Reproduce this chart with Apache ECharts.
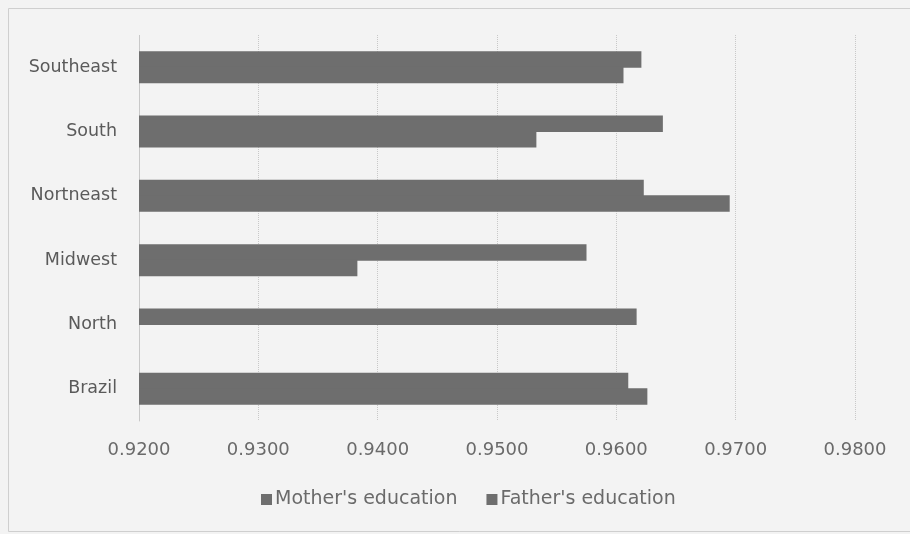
<!DOCTYPE html>
<html>
<head>
<meta charset="utf-8">
<script src="https://cdn.jsdelivr.net/npm/echarts@6/dist/echarts.min.js"></script>
<style>
html,body{margin:0;padding:0;background:#f3f3f3;}
#c{width:910px;height:534px;}
</style>
</head>
<body>
<div id="c"></div>
<script>
const categories = ["Brazil", "North", "Midwest", "Nortneast", "South", "Southeast"];
const seriesNames = ["Mother's education", "Father's education"];
const motherValues = [0.9626, null, 0.9383, 0.9695, 0.9533, 0.9606];
const fatherValues = [0.9610, 0.9617, 0.9575, 0.9623, 0.9639, 0.9621];
const xTicks = [0.92, 0.93, 0.94, 0.95, 0.96, 0.97, 0.98];

const chart = echarts.init(document.getElementById('c'));
const font = '"DejaVu Sans", sans-serif';
const barStyle = {color: '#6e6e6e'};
chart.setOption({
  backgroundColor: '#f3f3f3',
  animation: false,
  graphic: [{
    type: 'rect', shape: {x: 8.5, y: 8.5, width: 905, height: 523},
    style: {fill: 'none', stroke: '#cfcfcf', lineWidth: 1}, silent: true
  }],
  grid: {left: 139, right: 55, top: 35, bottom: 113, containLabel: false},
  legend: {
    top: 485, left: 256, itemWidth: 11, itemHeight: 11, itemGap: 29,
    icon: 'rect',
    textStyle: {fontFamily: font, fontSize: 19, color: '#6a6a6a', padding: [0, 0, 0, -2]},
    data: seriesNames
  },
  xAxis: {
    type: 'value', min: xTicks[0], max: xTicks[xTicks.length-1], interval: 0.01,
    axisLine: {show: false}, axisTick: {show: false},
    axisLabel: {fontFamily: font, fontSize: 18, color: '#6a6a6a', margin: 20,
      formatter: v => v.toFixed(4)},
    splitLine: {show: true, lineStyle: {color: '#c8c8c8', type: 'dotted', width: 1}}
  },
  yAxis: {
    type: 'category', data: categories,
    axisLine: {show: true, lineStyle: {color: '#c8c8c8', type: 'dotted'}},
    axisTick: {show: false},
    axisLabel: {fontFamily: font, fontSize: 17.5, color: '#5a5a5a', margin: 22}
  },
  series: [
    {name: seriesNames[1], type: 'bar', data: fatherValues, barWidth: 16.5, barGap: '-6%',
      itemStyle: barStyle},
    {name: seriesNames[0], type: 'bar', data: motherValues, barWidth: 16.5, barGap: '-6%',
      itemStyle: barStyle}
  ]
});
</script>
</body>
</html>
